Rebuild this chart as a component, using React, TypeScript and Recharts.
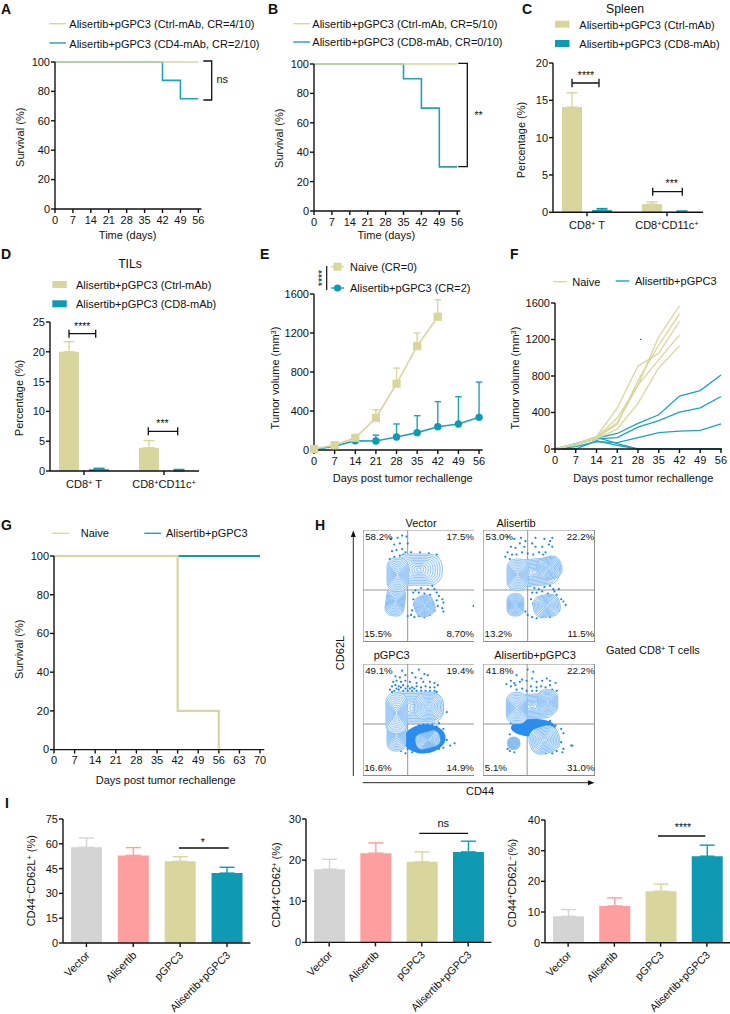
import React from 'react';
import { LineChart, Line, BarChart, Bar, ErrorBar, XAxis, YAxis, ScatterChart, Scatter, ReferenceLine, ReferenceArea } from 'recharts';

const KHAKI = '#D9D69D';
const TEAL = '#1CA3BE';
const BAR_TEAL = '#0F9AB4';
const INK = '#111';
const FONT = '"Liberation Sans", Arial, sans-serif';

// ---------- survival panels ----------
const ticks0to56 = [0, 7, 14, 21, 28, 35, 42, 49, 56];
const ticks0to70 = [0, 7, 14, 21, 28, 35, 42, 49, 56, 63, 70];
const survivalTicks = [0, 20, 40, 60, 80, 100];
const ctrlDaysA = [0, 56];
const ctrlSurvA = [100, 100];
const cd4Days = [0, 42, 49, 56];
const cd4Surv = [100, 87.5, 75, 75];
const ctrlDaysB = [0, 56];
const ctrlSurvB = [100, 100];
const cd8Days = [0, 35, 42, 49, 56];
const cd8Surv = [100, 90, 70, 30, 30];
const naiveDaysG = [0, 42, 56];
const naiveSurvG = [100, 20, 0];
const aliDaysG = [0, 70];
const aliSurvG = [100, 100];

// ---------- C, D bars ----------
const subsetCats = ['CD8+ T', 'CD8+CD11c+'];
const spleenCtrl = [14.1, 1.1];
const spleenCtrlErr = [1.9, 0.3];
const spleenCd8 = [0.3, 0.01];
const spleenCd8Err = [0.2, 0.17];
const tilCtrl = [20, 3.9];
const tilCtrlErr = [1.7, 1.2];
const tilCd8 = [0.3, 0.01];
const tilCd8Err = [0.15, 0.25];

// ---------- E ----------
const volDaysNaive = [0, 7, 14, 21, 28, 35, 42];
const volNaive = [10, 50, 125, 328, 680, 1065, 1367];
const volNaiveErr = [5, 15, 25, 85, 160, 135, 175];
const volDaysAli = [0, 7, 14, 21, 28, 35, 42, 49, 56];
const volAli = [5, 40, 95, 92, 133, 178, 239, 267, 335];
const volAliErr = [3, 12, 35, 60, 134, 174, 257, 280, 362];

// ---------- F ----------
const naiveCurves = [
  [0, 50, 125, 290, 700, 1230, 1570],
  [0, 55, 135, 450, 910, 1050, 1400],
  [0, 50, 120, 270, 750, 1140, 1480],
  [0, 50, 130, 340, 700, 980, 1250],
  [0, 45, 110, 220, 500, 890, 1130],
];
const aliCurves = [
  [0, 45, 120, 170, 280, 375, 580, 640, 810],
  [0, 50, 110, 125, 240, 310, 405, 450, 575],
  [0, 25, 80, 70, 125, 180, 195, 205, 275],
  [0, 60, 130, 60, 0, 0, 0, 0, 0],
  [0, 0, 90, 40, 0, 0, 0, 0, 0],
];

// ---------- I ----------
const groupCats = ['Vector', 'Alisertib', 'pGPC3', 'Alisertib+pGPC3'];
const groupColors = ['#D4D4D4', '#FF9E9E', KHAKI, BAR_TEAL];
const naiveCentral = [57.9, 53, 49.4, 42.3];
const naiveCentralErr = [5.6, 4.7, 2.8, 3.5];
const effMemory = [17.8, 21.7, 19.6, 22];
const effMemoryErr = [2.4, 2.5, 2.4, 2.6];
const effector = [8.6, 12, 16.8, 28.2];
const effectorErr = [2.2, 2.6, 2.3, 3.6];

// ---------- H (axis units 0-100) ----------
const vectorBlobs = [
  { x: 50, y: 64.5, rx: 21, ry: 14, tilt: 0 },
  { x: 29, y: 36, rx: 8.5, ry: 13, tilt: 8 },
  { x: 31, y: 60, rx: 9.5, ry: 15, tilt: 0 },
  { x: 55, y: 32, rx: 9, ry: 9.5, tilt: -20 },
];
const alisertibBlobs = [
  { x: 46, y: 62, rx: 22, ry: 12, tilt: -5 },
  { x: 31, y: 60, rx: 9.5, ry: 14, tilt: 0 },
  { x: 59.5, y: 66, rx: 11, ry: 10, tilt: -15 },
  { x: 29, y: 33, rx: 7.5, ry: 10, tilt: 0 },
  { x: 57, y: 32, rx: 12, ry: 10, tilt: -10 },
];
const pgpc3Blobs = [
  { x: 47, y: 61, rx: 25, ry: 14, tilt: 0 },
  { x: 30, y: 36, rx: 8.5, ry: 14, tilt: 0 },
  { x: 30, y: 56, rx: 9.5, ry: 18, tilt: 0 },
  { x: 59, y: 62, rx: 13, ry: 12, tilt: 0 },
  { x: 58, y: 32, rx: 11, ry: 7, tilt: -15 },
];
const aliPgpc3Blobs = [
  { x: 44, y: 62, rx: 20, ry: 11, tilt: -3 },
  { x: 30.4, y: 60.6, rx: 9.5, ry: 14, tilt: 0 },
  { x: 58, y: 66, rx: 9, ry: 11, tilt: 0 },
  { x: 27.5, y: 29, rx: 5.5, ry: 5.5, tilt: 0 },
  { x: 55, y: 32, rx: 13.5, ry: 12, tilt: -15 },
];
const pgpc3Dense = [
  { x: 55, y: 33, rx: 19, ry: 13, tilt: -5 },
];
const aliPgpc3Dense = [
  { x: 45, y: 43, rx: 20, ry: 8, tilt: 0 },
];
const noDense: { x: number; y: number; rx: number; ry: number; tilt: number }[] = [];
const vectorDots = [[25,92],[31,93],[35,95],[39,94],[28,87],[33,88],[40,88],[26,81],[30,82],[35,83],[38,80],[28,76],[33,77],[36,78],[24,74],[43,80],[51,80],[59,79],[66,78],[47,76],[40,74],[62,60],[63,55],[62,50],[64,47],[58,47],[52,48],[47,46],[45,44],[50,44],[55,43],[60,42],[66,44],[68,41],[45,38],[46,33],[44,28],[43,24],[40,23],[46,22],[50,23],[55,22],[60,24],[64,28],[67,32],[71,38],[72,35],[71,30],[72,27],[66,37],[99,32]];
const alisertibDots = [[22,94],[28,92],[34,93],[38,90],[44,88],[47,93],[55,92],[60,90],[62,93],[25,85],[29,84],[33,88],[37,85],[47,85],[53,85],[59,87],[62,85],[22,80],[26,78],[30,78],[35,80],[40,79],[45,78],[50,80],[54,78],[56,80],[60,76],[20,76],[24,74],[66,65],[42,50],[46,48],[50,47],[55,49],[60,50],[63,47],[44,44],[48,44],[53,45],[58,43],[64,45],[68,47],[66,42],[43,38],[45,34],[70,38],[72,36],[74,33],[68,33],[38,27],[40,24],[44,22],[48,21],[52,22],[56,24],[60,22],[64,25],[68,28]];
const pgpc3Dots = [[35,94],[44,92],[50,95],[55,91],[58,90],[29,89],[33,88],[38,90],[47,88],[52,87],[27,84],[30,85],[34,84],[38,85],[42,84],[48,83],[54,84],[60,84],[64,83],[26,80],[29,81],[32,80],[36,81],[40,80],[44,79],[48,80],[52,79],[56,80],[60,79],[64,79],[67,81],[24,77],[28,76],[32,77],[36,76],[40,76],[44,76],[48,76],[52,76],[56,76],[60,76],[64,76],[66,75],[75,57],[68,47],[66,44],[62,46],[58,46],[54,46],[50,45],[72,42],[75,32],[82,29],[78,27],[72,25],[68,24],[60,22],[55,23],[50,22],[44,21],[40,24],[38,20],[34,22],[26,75],[30,78],[34,79],[38,78],[42,78],[46,78]];
const aliPgpc3Dots = [[30,90],[25,85],[28,83],[33,84],[21,82],[25,80],[29,81],[35,86],[39,85],[40,95],[45,93],[44,87],[48,84],[53,85],[57,87],[60,85],[65,83],[43,80],[48,79],[52,80],[56,79],[60,81],[66,76],[62,77],[35,78],[30,77],[39,76],[44,76],[48,76],[52,75],[57,75],[62,74],[25,47],[27,42],[30,50],[24,37],[60,49],[65,45],[70,42],[72,38],[70,30],[72,24],[71,21],[80,27],[22,24],[24,22],[28,21],[46,22],[50,21],[56,20],[62,20],[66,22],[79,27]];
const flowPercents = [
  ['58.2%', '17.5%', '15.5%', '8.70%'],
  ['53.0%', '22.2%', '13.2%', '11.5%'],
  ['49.1%', '19.4%', '16.6%', '14.9%'],
  ['41.8%', '22.2%', '5.1%', '31.0%'],
];
const flowTitles = ['Vector', 'Alisertib', 'pGPC3', 'Alisertib+pGPC3'];

// ---------- helpers ----------
const zip = (xs: number[], ys: number[], es?: number[]) =>
  xs.map((x, i) => ({ x, y: ys[i], e: es ? [0, es[i]] : undefined }));

const L = 44, T = 10, R = 10, B = 34;
const box = (x0: number, y0: number, x1: number, y1: number, bottom = B) => ({
  width: x1 - x0 + L + R,
  height: y1 - y0 + T + bottom,
  margin: { top: T, right: R, bottom: 0, left: 0 },
  style: { position: 'absolute' as const, left: x0 - L, top: y0 - T },
});

const axisLine = { stroke: INK, strokeWidth: 1.4 };
const tickStyle = { fontSize: 11, fill: INK, fontFamily: FONT };

const numX = (max: number, ticks: number[]) => (
  <XAxis type="number" dataKey="x" domain={[0, max]} ticks={ticks} interval={0} height={B} tickSize={4}
    tickMargin={3} axisLine={axisLine} tickLine={axisLine} tick={tickStyle} />
);
const numY = (max: number, ticks: number[]) => (
  <YAxis type="number" dataKey="y" domain={[0, max]} ticks={ticks} interval={0} width={L} tickSize={4}
    tickMargin={1} axisLine={axisLine} tickLine={axisLine} tick={tickStyle} />
);

function supParts(s: string, small = 7.5) {
  const parts = s.split(/([+\-])/);
  const out: React.ReactNode[] = [];
  let raised = false;
  parts.forEach((p, i) => {
    if (p === '') return;
    if (p === '+' || p === '-') {
      out.push(<tspan key={i} dy={raised ? 0 : -3} fontSize={small}>{p === '-' ? '\u2212' : '+'}</tspan>);
      raised = true;
    } else {
      out.push(<tspan key={i} dy={raised ? 3 : 0}>{p}</tspan>);
      raised = false;
    }
  });
  return out;
}

const SupTick = (props: any) => (
  <text x={props.x} y={props.y + 11} textAnchor="middle" fontSize={11} fill={INK} fontFamily={FONT}>
    {supParts(props.payload.value)}
  </text>
);
const SlantTick = (props: any) => {
  const ax = props.x + 4, ay = props.y + 7;
  return (
    <text x={ax} y={ay} textAnchor="end" fontSize={10.8} fill={INK} fontFamily={FONT}
      transform={`rotate(-45 ${ax} ${ay})`}>{props.payload.value}</text>
  );
};

function Survival({ frame, xMax, ticks, series, width = 1.6 }: any) {
  return (
    <LineChart {...box(frame[0], frame[1], frame[2], frame[3])}>
      {numX(xMax, ticks)}
      {numY(100, survivalTicks)}
      {series.map((s: any, i: number) => (
        <Line key={i} data={s.data} dataKey="y" type="stepAfter" stroke={s.color} strokeWidth={width}
          dot={false} isAnimationActive={false} />
      ))}
    </LineChart>
  );
}

function GroupedBars({ frame, pad, ticks, max, a, aErr, b, bErr }: any) {
  const rows = subsetCats.map((c, i) => ({ c, a: a[i], b: b[i], ae: [0, aErr[i]], be: [0, bErr[i]] }));
  return (
    <BarChart {...box(frame[0], frame[1], frame[2], frame[3])} data={rows} barSize={20} barGap={10}>
      <XAxis dataKey="c" height={B} tickSize={4} axisLine={axisLine} tickLine={axisLine} tick={<SupTick />} interval={0} padding={pad} />
      <YAxis type="number" domain={[0, max]} ticks={ticks} interval={0} width={L} tickSize={4} tickMargin={1}
        axisLine={axisLine} tickLine={axisLine} tick={tickStyle} />
      <Bar dataKey="a" fill={KHAKI} isAnimationActive={false}>
        <ErrorBar dataKey="ae" width={5.5} stroke={KHAKI} strokeWidth={1.4} isAnimationActive={false} />
      </Bar>
      <Bar dataKey="b" fill={BAR_TEAL} isAnimationActive={false}>
        <ErrorBar dataKey="be" width={5.5} stroke={BAR_TEAL} strokeWidth={1.4} isAnimationActive={false} />
      </Bar>
    </BarChart>
  );
}

function GroupBars({ frame, max, ticks, values, errors }: any) {
  const rows = groupCats.map((c, i) => ({ c, ['v' + i]: values[i], ['e' + i]: [0, errors[i]] }));
  return (
    <BarChart {...box(frame[0], frame[1], frame[2], frame[3], 71)} data={rows} barSize={31}>
      <XAxis dataKey="c" height={71} tickSize={4} axisLine={axisLine} tickLine={axisLine} tick={<SlantTick />} interval={0} />
      <YAxis type="number" domain={[0, max]} ticks={ticks} interval={0} width={L} tickSize={4} tickMargin={1}
        axisLine={axisLine} tickLine={axisLine} tick={tickStyle} />
      {groupCats.map((_, i) => (
        <Bar key={i} dataKey={'v' + i} stackId="g" fill={groupColors[i]} isAnimationActive={false}>
          <ErrorBar dataKey={'e' + i} width={7.5} stroke={groupColors[i]} strokeWidth={1.4} isAnimationActive={false} />
        </Bar>
      ))}
    </BarChart>
  );
}

const SquareDot = (p: any) => (p.cx == null ? <g key={p.index} /> : <rect key={p.index} x={p.cx - 4.1} y={p.cy - 4.1} width={8.2} height={8.2} fill={KHAKI} />);
const RoundDot = (p: any) => (p.cx == null ? <g key={p.index} /> : <circle key={p.index} cx={p.cx} cy={p.cy} r={3.7} fill={BAR_TEAL} />);

function FlowPanel({ x0, y0, size, qx, qy, blobs, dense, dots }: any) {
  const k = size / 100;
  const rows = dots.map((d: number[]) => ({ x: d[0], y: d[1] }));
  const Contour = (p: any) => {
    const d = p.payload;
    const levels = [1, 0.9, 0.8, 0.7, 0.6, 0.5, 0.4, 0.3, 0.2, 0.1];
    return (
      <g transform={`rotate(${d.tilt} ${p.cx} ${p.cy})`}>
        {levels.map((l, i) => {
          const w = d.rx * k * l, h = d.ry * k * l;
          const c = Math.min(w, h) * 0.8;
          return <rect key={i} x={p.cx - w} y={p.cy - h} width={2 * w} height={2 * h} rx={c} ry={c}
            fill={i === 0 ? '#F1F7FE' : 'none'} stroke="#5FA9F1" strokeWidth={0.65} />;
        })}
      </g>
    );
  };
  const Solid = (p: any) => {
    const d = p.payload;
    return <ellipse cx={p.cx} cy={p.cy} rx={d.rx * k} ry={d.ry * k} fill="#2A8DEE"
      transform={`rotate(${d.tilt} ${p.cx} ${p.cy})`} />;
  };
  const Speck = (p: any) => <circle cx={p.cx} cy={p.cy} r={1.1} fill="#1C84EE" />;
  return (
    <ScatterChart width={size} height={size} margin={{ top: 0, right: 0, bottom: 0, left: 0 }}
      style={{ position: 'absolute', left: x0, top: y0 }}>
      <XAxis type="number" dataKey="x" domain={[0, 100]} hide />
      <YAxis type="number" dataKey="y" domain={[0, 100]} hide />
      <Scatter data={dense} shape={Solid} isAnimationActive={false} />
      <Scatter data={rows} shape={Speck} isAnimationActive={false} />
      <Scatter data={blobs} shape={Contour} isAnimationActive={false} />
      <ReferenceLine x={qx} stroke="#8a8a8a" strokeWidth={0.9} />
      <ReferenceLine y={qy} stroke="#8a8a8a" strokeWidth={0.9} />
      <ReferenceArea x1={0} x2={100} y1={0} y2={100} fill="none" stroke="#8a8a8a" strokeWidth={1.2} />
    </ScatterChart>
  );
}

// ---------- overlay text ----------
const Tx = ({ x, y, s = 11, a = 'start', b, children }: any) => (
  <text x={x} y={y} fontSize={s} textAnchor={a} fontWeight={b ? 'bold' : 'normal'} fill={INK} fontFamily={FONT}>{children}</text>
);
const VT = ({ x, y, s = 11, children }: any) => (
  <text x={x} y={y} fontSize={s} textAnchor="middle" fill={INK} fontFamily={FONT} transform={`rotate(-90 ${x} ${y})`}>{children}</text>
);
const Bracket = ({ d, w = 1.3 }: any) => <path d={d} fill="none" stroke={INK} strokeWidth={w} />;
const LegLine = ({ x0, x1, y, c }: any) => <line x1={x0} x2={x1} y1={y} y2={y} stroke={c} strokeWidth={1.4} />;
const LegBox = ({ x, y, c }: any) => <rect x={x} y={y} width={14.5} height={7} fill={c} />;

const flowBoxes = [
  { x0: 362.7, y0: 530.3 },
  { x0: 483, y0: 530.3 },
  { x0: 362.7, y0: 664.3 },
  { x0: 483.3, y0: 664.3 },
];
const FLOW = 111.7;
const STAR = 10.5;

export default function App() {
  return (
    <div style={{ position: 'absolute', left: 0, top: 0, width: 730, height: 1014, background: '#fff', fontFamily: FONT, overflow: 'hidden' }}>
      {/* A */}
      <Survival frame={[55.3, 62.3, 201.7, 209.3]} xMax={57.2} ticks={ticks0to56} series={[
        { data: zip(cd4Days, cd4Surv), color: TEAL },
        { data: zip(ctrlDaysA, ctrlSurvA), color: KHAKI },
      ]} />
      {/* B */}
      <Survival frame={[313.7, 63.7, 460, 210.7]} xMax={57.2} ticks={ticks0to56} series={[
        { data: zip(cd8Days, cd8Surv), color: TEAL },
        { data: zip(ctrlDaysB, ctrlSurvB), color: KHAKI },
      ]} />
      {/* C */}
      <GroupedBars frame={[553.3, 63, 703.3, 212.3]} pad={{ left: -6, right: -4 }} max={20} ticks={[0, 5, 10, 15, 20]}
        a={spleenCtrl} aErr={spleenCtrlErr} b={spleenCd8} bErr={spleenCd8Err} />
      {/* D */}
      <GroupedBars frame={[50, 322, 199, 471]} pad={{ left: -6, right: -5 }} max={25} ticks={[0, 5, 10, 15, 20, 25]}
        a={tilCtrl} aErr={tilCtrlErr} b={tilCd8} bErr={tilCd8Err} />
      {/* E */}
      <LineChart {...box(313.7, 294, 482.3, 450)}>
        {numX(57.2, ticks0to56)}
        {numY(1600, [0, 400, 800, 1200, 1600])}
        <Line data={zip(volDaysAli, volAli, volAliErr)} dataKey="y" stroke={TEAL} strokeWidth={1.6} dot={RoundDot} isAnimationActive={false}>
          <ErrorBar dataKey="e" width={3.3} stroke={TEAL} strokeWidth={1.4} direction="y" isAnimationActive={false} />
        </Line>
        <Line data={zip(volDaysNaive, volNaive, volNaiveErr)} dataKey="y" stroke={KHAKI} strokeWidth={1.6} dot={SquareDot} isAnimationActive={false}>
          <ErrorBar dataKey="e" width={3.3} stroke={KHAKI} strokeWidth={1.4} direction="y" isAnimationActive={false} />
        </Line>
      </LineChart>
      {/* F */}
      <LineChart {...box(555, 303.3, 722, 449.3)}>
        {numX(56.34, ticks0to56)}
        {numY(1600, [0, 400, 800, 1200, 1600])}
        {aliCurves.map((c, i) => (
          <Line key={'t' + i} data={zip(volDaysAli, c)} dataKey="y" stroke={TEAL} strokeWidth={1.3} dot={false} isAnimationActive={false} />
        ))}
        {naiveCurves.map((c, i) => (
          <Line key={'n' + i} data={zip(volDaysNaive, c)} dataKey="y" stroke={KHAKI} strokeWidth={1.3} dot={false} isAnimationActive={false} />
        ))}
      </LineChart>
      {/* G */}
      <Survival frame={[54, 555.7, 264.3, 749.3]} xMax={71.45} ticks={ticks0to70} width={2.2} series={[
        { data: zip(aliDaysG, aliSurvG), color: BAR_TEAL },
        { data: zip(naiveDaysG, naiveSurvG), color: KHAKI },
      ]} />
      {/* H */}
      <FlowPanel {...flowBoxes[0]} size={FLOW} qx={40} qy={46.3} blobs={vectorBlobs} dense={noDense} dots={vectorDots} />
      <FlowPanel {...flowBoxes[1]} size={FLOW} qx={40} qy={46.3} blobs={alisertibBlobs} dense={noDense} dots={alisertibDots} />
      <FlowPanel {...flowBoxes[2]} size={FLOW} qx={40} qy={46.3} blobs={pgpc3Blobs} dense={pgpc3Dense} dots={pgpc3Dots} />
      <FlowPanel {...flowBoxes[3]} size={FLOW} qx={39.5} qy={46.3} blobs={aliPgpc3Blobs} dense={aliPgpc3Dense} dots={aliPgpc3Dots} />
      {/* I */}
      <GroupBars frame={[63.3, 818.7, 250.7, 942.7]} max={75} ticks={[0, 15, 30, 45, 60, 75]} values={naiveCentral} errors={naiveCentralErr} />
      <GroupBars frame={[305.7, 819.3, 491, 942.7]} max={30} ticks={[0, 10, 20, 30]} values={effMemory} errors={effMemoryErr} />
      <GroupBars frame={[545, 820, 730, 942.7]} max={40} ticks={[0, 10, 20, 30, 40]} values={effector} errors={effectorErr} />

      <svg width={730} height={1014} style={{ position: 'absolute', left: 0, top: 0, pointerEvents: 'none' }}>
        {/* panel letters */}
        <Tx x={1} y={14} s={14} b>A</Tx>
        <Tx x={268} y={14} s={14} b>B</Tx>
        <Tx x={522} y={14} s={14} b>C</Tx>
        <Tx x={1} y={259} s={14} b>D</Tx>
        <Tx x={260} y={259} s={14} b>E</Tx>
        <Tx x={510} y={259} s={14} b>F</Tx>
        <Tx x={1} y={530} s={14} b>G</Tx>
        <Tx x={315} y={530} s={14} b>H</Tx>
        <Tx x={5} y={808} s={14} b>I</Tx>

        {/* A */}
        <LegLine x0={49.3} x1={66} y={23.7} c={KHAKI} />
        <LegLine x0={49.3} x1={66} y={43} c={TEAL} />
        <Tx x={69.3} y={27.5}>Alisertib+pGPC3 (Ctrl-mAb, CR=4/10)</Tx>
        <Tx x={69.3} y={47.5}>Alisertib+pGPC3 (CD4-mAb, CR=2/10)</Tx>
        <VT x={24.5} y={137.3}>Survival (%)</VT>
        <Tx x={127.7} y={239} a="middle">Time (days)</Tx>
        <Bracket d="M203.3 61H211.7V100H203.3" />
        <Tx x={216.5} y={83}>ns</Tx>

        {/* B */}
        <LegLine x0={293.3} x1={310} y={23.7} c={KHAKI} />
        <LegLine x0={293.3} x1={310} y={42} c={TEAL} />
        <Tx x={312.3} y={27.5}>Alisertib+pGPC3 (Ctrl-mAb, CR=5/10)</Tx>
        <Tx x={312.3} y={46}>Alisertib+pGPC3 (CD8-mAb, CR=0/10)</Tx>
        <VT x={283} y={138.3}>Survival (%)</VT>
        <Tx x={386.3} y={239} a="middle">Time (days)</Tx>
        <Bracket d="M458.3 63.3H467.3V166.7H458.3" />
        <Tx x={478.5} y={118.5} a="middle" s={STAR}>**</Tx>

        {/* C */}
        <Tx x={625} y={13} s={12.2} a="middle">Spleen</Tx>
        <LegBox x={555} y={20.7} c={KHAKI} />
        <LegBox x={555} y={40} c={BAR_TEAL} />
        <Tx x={579.3} y={29}>Alisertib+pGPC3 (Ctrl-mAb)</Tx>
        <Tx x={579.3} y={48}>Alisertib+pGPC3 (CD8-mAb)</Tx>
        <VT x={525} y={140}>Percentage (%)</VT>
        <Bracket d="M572 78.7V87.3M572 83H599M599 78.7V87.3" />
        <Bracket d="M652.7 187.7V195.7M652.7 191.7H682.3M682.3 187.7V195.7" />
        <Tx x={586} y={78.5} s={STAR} a="middle">****</Tx>
        <Tx x={671.7} y={186.5} s={STAR} a="middle">***</Tx>

        {/* D */}
        <Tx x={130} y={268} s={12.2} a="middle">TILs</Tx>
        <LegBox x={52.3} y={281} c={KHAKI} />
        <LegBox x={52.3} y={300.3} c={BAR_TEAL} />
        <Tx x={76} y={288.5}>Alisertib+pGPC3 (Ctrl-mAb)</Tx>
        <Tx x={76} y={307.7}>Alisertib+pGPC3 (CD8-mAb)</Tx>
        <VT x={22.8} y={398}>Percentage (%)</VT>
        <Bracket d="M69 329.7V337.7M69 333.7H95.7M95.7 329.7V337.7" />
        <Bracket d="M148.3 427.3V435.3M148.3 431.3H177.7M177.7 427.3V435.3" />
        <Tx x={82.3} y={329.5} s={STAR} a="middle">****</Tx>
        <Tx x={162.5} y={426.5} s={STAR} a="middle">***</Tx>

        {/* E */}
        <line x1={331} x2={344} y1={266.7} y2={266.7} stroke={KHAKI} strokeWidth={1.4} />
        <rect x={333.5} y={262.7} width={8} height={8} fill={KHAKI} />
        <line x1={331} x2={344} y1={288} y2={288} stroke={TEAL} strokeWidth={1.4} />
        <circle cx={337.5} cy={288} r={3.6} fill={BAR_TEAL} />
        <Tx x={350} y={270.5}>Naive (CR=0)</Tx>
        <Tx x={350} y={291.5}>Alisertib+pGPC3 (CR=2)</Tx>
        <line x1={326.7} x2={326.7} y1={266} y2={290} stroke={INK} strokeWidth={1.2} />
        <text x={325.5} y={278} fontSize={STAR} textAnchor="middle" fill={INK} fontFamily={FONT} transform="rotate(-90 325.5 278)">****</text>
        <VT x={278.8} y={378}>Tumor volume (mm<tspan dy={-3} fontSize={7.5}>3</tspan><tspan dy={3}>)</tspan></VT>
        <Tx x={402.7} y={482} a="middle">Days post tumor rechallenge</Tx>

        {/* F */}
        <LegLine x0={553.3} x1={566.7} y={281.7} c={KHAKI} />
        <LegLine x0={615.7} x1={629.3} y={281} c={TEAL} />
        <Tx x={572.3} y={285.5}>Naive</Tx>
        <Tx x={635} y={285}>Alisertib+pGPC3</Tx>
        <VT x={518.8} y={378}>Tumor volume (mm<tspan dy={-3} fontSize={7.5}>3</tspan><tspan dy={3}>)</tspan></VT>
        <Tx x={643.3} y={482} a="middle">Days post tumor rechallenge</Tx>
        <circle cx={640.7} cy={339.3} r={0.6} fill={INK} />

        {/* G */}
        <LegLine x0={52.3} x1={69} y={533.3} c={KHAKI} />
        <LegLine x0={144.3} x1={161} y={533.3} c={TEAL} />
        <Tx x={80.7} y={537.3}>Naive</Tx>
        <Tx x={166} y={537}>Alisertib+pGPC3</Tx>
        <VT x={22.8} y={649.3}>Survival (%)</VT>
        <Tx x={165.7} y={784} a="middle">Days post tumor rechallenge</Tx>

        {/* H */}
        <Tx x={421} y={527.3} a="middle">{flowTitles[0]}</Tx>
        <Tx x={516} y={527.3} a="middle">{flowTitles[1]}</Tx>
        <Tx x={391.7} y={659.3} a="middle">{flowTitles[2]}</Tx>
        <Tx x={535} y={659.3} a="middle">{flowTitles[3]}</Tx>
        {flowBoxes.map((b, i) => (
          <g key={i}>
            <Tx x={b.x0 + 2.5} y={b.y0 + 10} s={9.7}>{flowPercents[i][0]}</Tx>
            <Tx x={b.x0 + FLOW - 0.5} y={b.y0 + 10} s={9.7} a="end">{flowPercents[i][1]}</Tx>
            <Tx x={b.x0 + 1.5} y={b.y0 + FLOW - 5.5} s={9.7}>{flowPercents[i][2]}</Tx>
            <Tx x={b.x0 + FLOW - 0.5} y={b.y0 + FLOW - 5.5} s={9.7} a="end">{flowPercents[i][3]}</Tx>
          </g>
        ))}
        <line x1={353.3} x2={353.3} y1={776} y2={535} stroke={INK} strokeWidth={0.9} />
        <path d="M350.8 537L353.3 530.5L355.8 537Z" fill={INK} />
        <line x1={362.7} x2={590} y1={782.7} y2={782.7} stroke={INK} strokeWidth={0.9} />
        <path d="M588 780.2L594.5 782.7L588 785.2Z" fill={INK} />
        <Tx x={480} y={794.5} a="middle">CD44</Tx>
        <VT x={343.8} y={653}>CD62L</VT>
        <Tx x={606} y={653.5}>Gated CD8<tspan dy={-3} fontSize={7.5}>+</tspan><tspan dy={3}> T cells</tspan></Tx>

        {/* I */}
        <VT x={34.8} y={880.7}>CD44<tspan dy={-3} fontSize={7.5}>−</tspan><tspan dy={3}>CD62L</tspan><tspan dy={-3} fontSize={7.5}>+</tspan><tspan dy={3}> (%)</tspan></VT>
        <VT x={279.8} y={885}>CD44<tspan dy={-3} fontSize={7.5}>+</tspan><tspan dy={3}>CD62</tspan><tspan dy={-3} fontSize={7.5}>+</tspan><tspan dy={3}> (%)</tspan></VT>
        <VT x={515.5} y={883}>CD44<tspan dy={-3} fontSize={7.5}>+</tspan><tspan dy={3}>CD62L</tspan><tspan dy={-3} fontSize={7.5}>−</tspan><tspan dy={3}>(%)</tspan></VT>
        <Bracket d="M179 848H228.7" />
        <Tx x={202.7} y={845.8} s={STAR} a="middle">*</Tx>
        <Bracket d="M419.3 833.3H468" />
        <Tx x={443.3} y={827} a="middle">ns</Tx>
        <Bracket d="M658 836H705.3" />
        <Tx x={683} y={830.8} s={STAR} a="middle">****</Tx>
      </svg>
    </div>
  );
}
